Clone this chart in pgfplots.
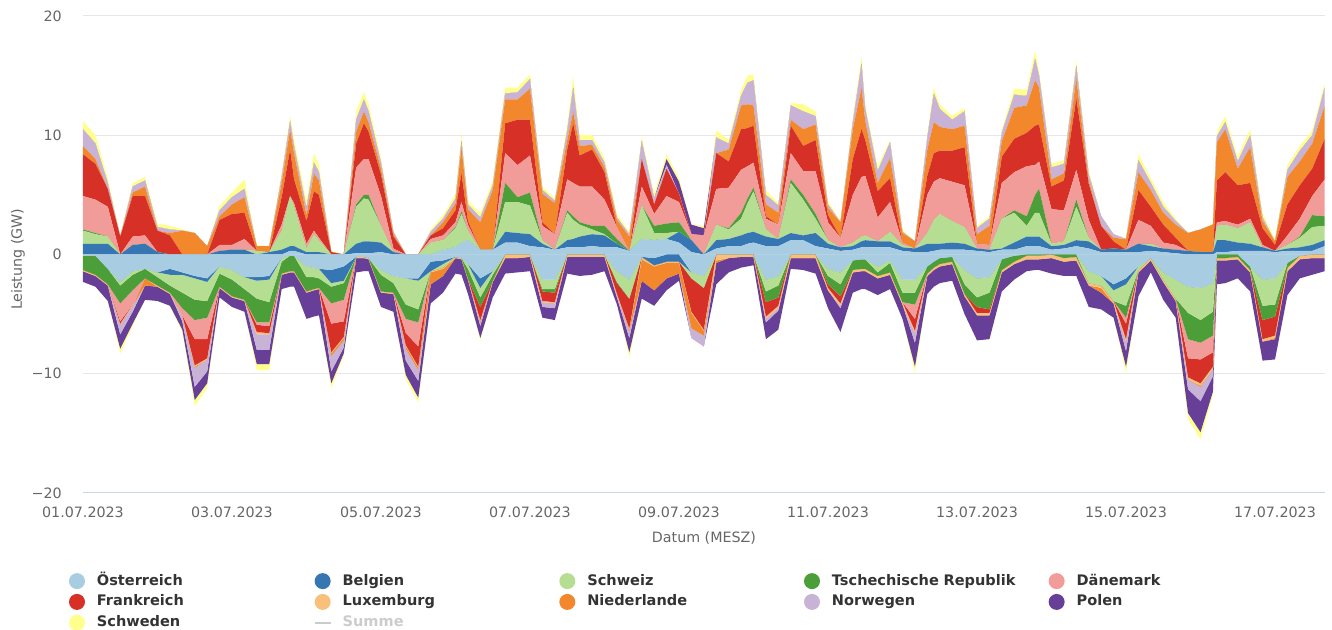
\documentclass[border=0pt]{standalone}
\usepackage{fontspec}
\setmainfont{DejaVu Sans}
\usepackage{pgfplots}
\pgfplotsset{compat=1.18}
\usepackage{pgfplotstable}
\definecolor{cAT}{HTML}{A8CDE3}
\definecolor{cBE}{HTML}{3576B3}
\definecolor{cCH}{HTML}{B6DE92}
\definecolor{cCZ}{HTML}{4C9F38}
\definecolor{cDK}{HTML}{F29C99}
\definecolor{cFR}{HTML}{D63027}
\definecolor{cLU}{HTML}{F8C07A}
\definecolor{cNL}{HTML}{F2872B}
\definecolor{cNO}{HTML}{C8B2D6}
\definecolor{cPL}{HTML}{673F98}
\definecolor{cSE}{HTML}{FFFF8E}
\definecolor{cGrid}{HTML}{E6E6E6}
\definecolor{cAxis}{HTML}{CCD6EB}
\definecolor{cTick}{HTML}{666666}
\definecolor{cLeg}{HTML}{333333}
\definecolor{cSum}{HTML}{CCCCCC}

\pgfplotstableread{
d AT BE CH CZ DK FR LU NL NO PL SE
0.000 0 0.9 1.1 0.1 2.8 3.5 0 0.7 1.4 0 0.7
0.167 0 0.9 0.8 0.1 2.8 3.0 0 0.4 1.3 0 0.7
0.333 0 0.9 0.6 0 2.5 1.5 0 0 0.5 0 0.4
0.500 0 0 0 0 0 1.5 0 0 0 0 0.1
0.667 0 0.8 0 0 0.7 3.4 0 0.3 0.5 0 0.3
0.833 0 0.9 0 0 0.7 3.3 0 0.8 0.5 0 0.3
1.000 0 0.2 0 0 0 1.8 0 0 0.3 0 0.3
1.167 0 0 0 0 0 1.6 0 0.2 0.3 0 0.3
1.333 0 0 0 0 0 0 0 2.0 0 0 0.1
1.500 0 0 0 0 0 0 0 1.8 0 0 0
1.667 0 0 0 0 0 0 0 0.7 0 0 0
1.833 0 0.3 0 0 0.5 2.1 0 0.3 0.5 0 0.4
2.000 0 0.4 0 0 0.4 2.6 0 0.8 0.6 0 0.4
2.167 0 0.4 0 0 0.9 2.2 0 1.3 0.7 0 0.8
2.333 0 0 0.3 0 0 0 0 0.4 0 0 0.1
2.500 0 0.2 0 0 0 0 0 0.5 0 0 0
2.667 0 0.4 1.6 0 0.5 2.3 0 1.2 0.5 0 0.4
2.780 0.3 0.4 4.2 0 0 3.9 0 1.7 0.7 0 0.4
2.833 0.3 0.4 3.3 0 0.3 2.0 0 2.2 0.6 0 0.6
3.000 0 0.2 0.3 0 0.4 1.9 0 0.5 0.6 0 0.6
3.100 0 0.2 1.5 0 0.3 3.3 0 1.5 0.9 0 0.8
3.167 0 0.2 1.0 0 0.2 3.6 0 1.2 0.7 0 0.6
3.333 0 0 0 0 0 0.2 0 0 0 0 0.1
3.500 0 0 0 0 0 0 0 0 0 0 0
3.667 0.1 0.8 3.1 0.2 3.1 2.0 0 1.0 1.0 0 0.7
3.770 0.1 1.0 3.6 0.3 3.0 3.0 0 1.0 1.0 0 0.6
3.833 0.1 1.0 3.5 0.4 3.0 2.3 0 0.8 0.9 0 0.6
4.000 0.2 0.8 1.4 0 2.5 1.8 0 0.5 0.5 0 0.4
4.167 0 0.2 0 0 0.3 1.0 0 0.2 0.2 0 0.1
4.333 0 0 0 0 0 0 0 0 0 0 0
4.500 0 0 0 0 0 0 0 0 0 0 0
4.667 0 0 1.0 0 0.3 0.3 0 0 0.3 0 0.2
4.833 0.4 0 0.8 0 0.4 0.6 0 0.5 0.3 0 0.3
5.000 0.6 0 1.6 0.1 0.4 1.0 0 0.6 0.4 0 0.4
5.080 1.0 0 2.4 0.2 0.8 2.4 0 2.2 0.5 0 0.6
5.167 1.2 0 0.8 0 0.5 0.3 0 1.0 0.4 0 0.3
5.333 0.4 0 0 0 0 0 0 2.3 0.4 0 0.4
5.500 0.4 0 0 0 0 0 0 5.0 0.4 0 0.4
5.667 1.0 0.9 2.5 1.6 2.5 2.5 0 2.0 0.5 0 0.5
5.833 1.0 0.8 2.6 0.4 2.7 3.8 0 1.7 0.6 0 0.4
6.000 0.7 1.0 2.4 1.1 3.1 3.0 0 2.6 0.8 0 0.4
6.167 0.6 0.3 0.3 0 1.2 0.3 0 2.4 0.3 0 0.3
6.333 0.4 0 0 0 1.3 0 0 2.6 0.2 0 0.2
6.500 0.6 0.6 2.3 0.2 2.6 2.5 0 0.8 0.8 0 0.5
6.580 0.6 0.7 1.6 0.3 2.8 5.0 0 1.0 2.0 0 0.9
6.667 0.6 0.9 1.0 0.2 3.0 2.6 0 0.8 0.5 0 0.4
6.833 0.7 1.0 0.4 0.3 3.3 3.1 0 0.4 0.4 0 0.4
7.000 0.6 1.0 0.1 0.7 2.2 2.3 0 0.4 0.4 0 0.4
7.167 0.6 0.3 0 0.4 1.0 0 0 0.6 0.2 0 0.3
7.333 0.3 0 0 0 0 0 0 1.2 0.2 0 0.2
7.500 1.3 0 2.8 0 1.6 2.3 0 0 1.5 0 0.4
7.667 1.2 0 0.6 0.6 1.0 0.8 0 0 0.5 0 0.4
7.833 1.3 0 0.5 0.8 2.3 2.3 0 0 0.3 0.5 0.4
8.000 1.0 0.9 0 0.8 1.7 0.7 0 0 0 1.0 0.3
8.167 0.2 1.0 0 0 0.5 0 0 0 0 0.8 0
8.333 0 0 0 0 1.6 0 0 0 0 0.6 0.2
8.500 0.5 0.7 1.3 0 3.0 3.0 0 0 1.3 0 0.6
8.667 0.7 0.6 0.8 0.1 3.4 2.2 0 1.0 0.5 0 0.3
8.833 0.7 0.9 1.4 0.5 3.6 3.4 0 2.0 0.8 0 0.5
8.920 0.9 0.9 2.5 0.4 2.7 3.2 0 2.0 1.8 0 0.6
9.000 1.0 0.9 3.4 0.3 2.1 3.1 0 1.7 2.1 0 0.5
9.167 0.7 0.8 0.6 0 0.9 0.2 0 1.0 0.8 0 0.4
9.333 0.7 0.6 0 0 1.2 0 0 1.0 0.6 0 0.2
9.500 1.2 0.6 4.2 0.3 2.2 2.3 0 0.5 1.2 0 0.2
9.667 1.2 0.4 3.0 0.4 2.0 2.1 0 1.4 1.5 0 0.6
9.833 0.7 1.1 1.2 0.4 3.6 2.6 0 1.3 0.7 0 0.4
10.000 0.5 0.4 0.3 0 1.5 0.6 0 0.6 0.3 0 0.3
10.167 0.3 0.3 0 0 0.8 0 0 1.3 0 0 0.1
10.333 0.4 0.3 0.3 0 4.0 3.0 0 2.5 0.6 0 0.4
10.450 0.6 0.5 0.4 0 5.0 4.0 0 3.5 2.0 0 0.6
10.500 0.6 0.6 0.4 0 5.0 3.0 0 1.6 1.0 0 0.4
10.667 0.6 0.5 0 0 2.0 2.2 0 0.7 1.0 0 0.4
10.833 0.6 0.5 0.8 0 2.5 2.0 0 1.7 1.3 0 0.2
11.000 0.3 0.3 0.2 0 0.2 0 0 0.8 0.1 0 0.2
11.167 0.2 0.3 0 0 0 0 0 0.6 0 0 0
11.333 0.2 0.7 0.9 0 3.2 1.6 0 2.2 1.0 0 0.3
11.420 0.3 0.6 2.0 0 3.2 2.4 0 2.6 2.4 0 0.5
11.500 0.4 0.5 2.5 0 3.0 2.3 0 2.0 1.5 0 0.4
11.667 0.4 0.6 1.8 0 3.3 2.6 0 1.8 0.8 0 0.3
11.833 0.4 0.5 1.4 0 3.5 3.2 0 1.8 1.2 0 0.3
12.000 0.3 0.2 0 0 0.4 0 0 0.8 0.5 0 0.2
12.167 0.2 0.2 0 0 0.4 0 0 1.6 0.6 0 0.2
12.333 0.4 0.1 2.5 0 3.0 2.2 0 1.3 0.7 0 0.3
12.500 0.4 0.6 2.5 0.2 3.2 2.8 0 2.6 1.1 0 0.5
12.667 0.7 0.8 0.9 0.8 4.2 2.8 0 2.3 0.8 0 0.5
12.780 0.7 0.8 2.0 1.5 2.5 3.3 0 3.8 1.8 0 0.7
12.833 0.7 0.8 2.0 2.0 2.3 3.1 0 3.1 1.0 0 0.4
13.000 0.4 0.3 0.2 0 2.9 1.9 0 0.6 1.0 0 0.3
13.167 0.5 0.3 0.3 0 2.6 2.5 0 0.6 0.8 0 0.3
13.333 0.7 0.5 2.8 0.6 2.5 6.0 0 1.7 1.0 0 0.5
13.500 0.5 0.6 0.3 0 1.5 3.0 0 0.3 0.5 0 0.3
13.667 0.2 0.2 0 0 0 2.0 0 0 0.8 0 0
13.833 0.2 0.3 0 0 0 0.6 0 0.3 0.3 0 0
14.000 0.2 0.2 0 0 0 0 0 0.9 0 0 0
14.167 0.2 0.7 0 0 2.0 2.5 0 1.5 1.0 0 0.5
14.333 0.3 0.4 0.2 0 1.5 1.6 0 1.4 0.6 0 0.4
14.500 0.2 0.3 0 0 0.5 1.5 0 1.0 0.5 0 0.4
14.667 0.1 0.3 0 0 0.4 0.6 0 1.1 0.3 0 0.2
14.833 0 0.3 0 0 0 0 0 1.5 0 0 0
15.000 0 0.2 0 0 0 0 0 1.9 0 0 0
15.167 0 0.2 0 0 0 0 0 2.3 0 0 0.1
15.220 0.2 1.0 1.2 0 0.3 3.5 0 3.2 0.5 0 0.4
15.333 0.2 1.0 1.3 0 0.3 4.1 0 3.6 0.6 0 0.5
15.500 0.3 0.7 1.2 0 0.3 3.3 0 1.4 0.6 0 0.4
15.667 0.3 0.6 1.8 0 0.3 3.0 0 3.0 1.0 0 0.5
15.833 0.3 0.3 0 0 0.2 1.4 0 0.6 0.3 0 0.4
16.000 0.2 0.1 0 0 0 0.5 0 0.3 0 0 0.2
16.167 0.3 0.2 0.3 0 0.8 2.6 0 2.3 0.6 0 0.4
16.333 0.3 0.3 0.8 0.1 1.5 2.8 0 2.0 0.9 0 0.4
16.500 0.3 0.5 1.5 1.0 1.6 2.3 0 2.1 0.7 0 0.4
16.667 0.7 0.5 1.2 0.8 3.1 3.4 0 2.8 1.5 0 0.4
}\pos

\pgfplotstableread{
d AT BE CH CZ DK FR LU NL NO PL SE
0.000 -0.1 0 0 -1.2 0 0 -0.1 0 0 -0.9 0
0.167 -0.1 0 0 -1.6 0 0 -0.1 0 0 -0.9 0
0.333 -1.2 0 0 -1.3 0 0 -0.1 0 0 -1.3 0
0.500 -2.3 0 -0.3 -1.5 -1.5 -0.2 -0.1 0 -0.8 -1.2 -0.4
0.667 -1.4 0 -0.3 -1.3 -1.2 0 -0.1 0 -0.5 -1.0 -0.2
0.833 -1.2 0 0 -0.8 0 0 0 -0.6 0 -1.2 0
1.000 -1.5 0 -0.4 -0.7 0 0 -0.1 0 0 -1.2 0
1.167 -1.2 -0.5 -0.9 -0.6 0 0 -0.1 0 0 -1.0 0
1.333 -1.5 -0.2 -1.5 -1.3 -0.6 0 -0.1 0 -0.4 -0.7 -0.2
1.500 -1.8 -0.2 -1.8 -1.7 -1.6 -2.2 -0.1 -0.1 -1.6 -1.1 -0.5
1.667 -2.0 -0.3 -1.6 -1.4 -1.8 -1.6 -0.1 0 -1.0 -1.0 -0.4
1.833 -1.0 0 -0.6 -1.1 0 0 -0.1 0 0 -0.8 0
2.000 -1.3 0 -0.8 -1.4 0 0 -0.1 0 0 -0.8 0
2.167 -1.9 0 -1.0 -0.9 0 0 -0.1 0 0 -0.9 0
2.333 -1.9 -0.3 -1.5 -2.0 -0.2 -0.6 -0.2 0 -1.3 -1.2 -0.5
2.500 -1.8 -0.3 -1.9 -1.7 -0.3 -0.6 -0.1 0 -1.3 -1.2 -0.5
2.667 -0.3 0 -0.3 -1.0 0 0 -0.1 0 0 -1.2 0
2.780 -0.1 0 0 -1.3 0 0 -0.1 0 0 -1.2 0
2.833 -0.1 0 0 -1.3 0 0 -0.1 0 0 -1.2 0
3.000 -1.0 0 -0.9 -1.2 0 0 -0.1 0 0 -2.2 0
3.100 -1.1 0 -0.8 -1.0 0 0 -0.1 0 0 -2.2 0
3.167 -1.2 0 -0.8 -0.8 0 0 -0.1 0 0 -2.2 0
3.333 -1.3 -1.1 -0.3 -1.4 -1.7 -2.4 -0.1 -0.2 -1.3 -1.0 -0.4
3.500 -1.0 -1.2 -0.2 -1.4 -1.8 -1.3 -0.1 -0.2 -0.6 -0.5 -0.2
3.667 -0.2 0 0 0 0 0 -0.1 0 0 -1.2 0
3.770 -0.2 0 0 0 0 0 -0.1 0 0 -1.1 0
3.833 -0.3 0 0 0 0 0 -0.1 0 0 -1.0 0
4.000 -1.3 0 -0.4 -1.4 0 0 -0.1 0 0 -1.2 0
4.167 -1.8 0 -0.6 -0.8 0 0 -0.1 0 0 -1.5 0
4.333 -2.0 0 -2.2 -1.2 -1.2 -1.0 -0.1 -0.2 -1.0 -1.2 -0.4
4.500 -2.0 -0.2 -2.4 -1.1 -2.0 -1.7 -0.1 -0.2 -0.9 -1.4 -0.4
4.667 -0.6 -0.8 0 0 0 0 -0.1 -1.0 0 -1.6 0
4.833 -0.5 -0.3 -0.3 0 0 0 -0.1 -0.6 0 -1.4 0
5.000 -0.2 0 0 0 0 0 -0.1 0 0 -1.3 0
5.080 -0.3 0 0 0 0 0 -0.1 0 0 -1.3 0
5.167 -0.8 0 -0.4 -0.8 0 0 -0.1 0 0 -1.2 0
5.333 -2.0 -0.8 -0.8 -0.8 0 -1.1 -0.1 -0.1 -0.3 -1.0 -0.2
5.500 -1.4 0 -0.3 -0.5 0 0 -0.1 0 0 -1.3 0
5.667 0 0 0 0 0 0 -0.3 0 0 -1.3 0
5.833 0 0 0 0 0 0 -0.3 0 0 -1.2 0
6.000 0 0 0 0 0 0 -0.2 0 0 -1.2 0
6.167 -2.1 0 -0.8 -0.2 0 -0.8 -0.1 0 -0.4 -0.9 0
6.333 -2.1 0 -0.8 -0.3 0 -0.8 -0.1 0 -0.4 -1.0 0
6.500 0 0 0 0 0 0 -0.2 0 0 -1.4 0
6.580 0 0 0 0 0 0 -0.2 0 0 -1.5 0
6.667 0 0 0 0 0 0 -0.2 0 0 -1.6 0
6.833 0 0 0 0 0 0 -0.2 0 0 -1.5 0
7.000 0 0 0 0 0 0 -0.2 0 0 -1.2 0
7.167 -1.4 0 -0.9 -0.1 0 -0.9 -0.1 0 -0.2 -0.6 0
7.333 -2.1 0 -1.6 0 0 -2.5 -0.1 -0.1 -0.6 -1.2 -0.4
7.500 -0.2 0 0 0 0 0 -0.2 -1.8 0 -1.5 0
7.667 -0.3 -0.6 0 0 0 0 -0.1 -2.0 0 -1.3 0
7.833 0 -0.6 0 0 0 0 -0.1 -1.3 0 -1.0 0
8.000 0 -0.6 0 0 0 0 -0.1 -0.9 0 -0.6 0
8.167 -1.5 0 -0.5 0 0 -2.8 -0.1 -1.3 -0.8 0 0
8.333 -1.8 0 -1.0 0 0 -3.5 -0.1 -0.4 -0.9 0 0
8.500 0 0 0 0 0 0 -0.5 -0.2 0 -1.8 0
8.667 0 0 0 0 0 0 -0.3 0 0 -1.2 0
8.833 0 0 0 0 0 0 -0.2 0 0 -0.9 0
8.920 0 0 0 0 0 0 -0.2 0 0 -0.8 0
9.000 0 0 0 0 0 0 -0.2 0 0 -0.7 0
9.167 -2.1 0 -1.0 -0.9 0 -1.2 -0.2 0 -0.3 -1.4 0
9.333 -1.8 0 -0.8 -1.0 0 -0.7 -0.2 0 -0.2 -1.6 0
9.500 0 0 0 0 0 0 -0.3 0 0 -0.9 0
9.667 0 0 0 0 0 0 -0.3 0 0 -1.0 0
9.833 0 0 0 0 0 0 -0.3 0 0 -1.3 0
10.000 -1.2 0 -0.6 -0.7 0 -0.3 -0.2 0 0 -1.5 0
10.167 -1.5 0 -1.0 -1.0 0 -0.6 -0.2 0 -0.2 -2.0 0
10.333 -0.5 0 0 -0.8 0 0 -0.2 0 0 -1.7 0
10.450 -0.4 0 0 -0.8 0 0 -0.2 0 0 -1.5 0
10.500 -0.4 0 0 -0.8 0 0 -0.2 0 0 -1.5 0
10.667 -1.0 0 -0.5 -0.3 0 0 -0.2 0 0 -1.4 0
10.833 -0.5 0 -0.2 -0.8 0 0 -0.2 0 0 -1.2 0
11.000 -2.1 0 -1.1 -0.8 0 0 -0.2 0 0 -1.2 0
11.167 -2.1 0 -1.1 -1.0 -1.2 -1.0 -0.2 0 -0.8 -2.0 -0.5
11.333 -1.0 0 0 -0.6 0 0 -0.2 0 0 -1.5 0
11.420 -0.6 0 0 -0.5 0 0 -0.2 0 0 -1.4 0
11.500 -0.3 0 0 -0.5 0 0 -0.2 0 0 -1.4 0
11.667 -0.2 0 0 -0.4 0 0 -0.2 0 0 -1.4 0
11.833 -1.3 0 -1.2 -0.8 0 0 -0.2 0 0 -1.5 0
12.000 -2.0 0 -1.6 -0.8 0 -0.5 -0.2 0 0 -2.1 0
12.167 -1.9 0 -1.3 -1.4 0 -0.3 -0.2 0 0 -2.0 0
12.333 -0.4 0 0 -0.9 0 0 -0.2 0 0 -1.6 0
12.500 -0.1 0 0 -0.5 0 0 -0.2 0 0 -1.3 0
12.667 0 0 0 -0.1 0 0 -0.3 0 0 -1.0 0
12.780 0 0 0 -0.1 0 0 -0.3 0 0 -0.9 0
12.833 0 0 0 -0.1 0 0 -0.3 0 0 -0.9 0
13.000 0 0 0 0 0 0 -0.3 0 0 -1.3 0
13.167 0 0 0 -0.3 0 0 -0.3 0 0 -1.2 0
13.333 0 0 0 -0.2 0 0 -0.3 0 0 -1.3 0
13.500 -1.4 0 -1.0 0 0 0 -0.2 0 0 -1.8 0
13.667 -1.8 0 -0.8 0 0 0 -0.2 -0.4 0 -1.4 0
13.833 -2.5 -0.5 -0.9 0 0 0 -0.2 0 0 -1.2 0
14.000 -2.0 -0.5 -1.8 -1.0 -0.5 -1.3 -0.2 0 -0.8 -1.3 -0.5
14.167 -1.0 0 -0.3 0 0 0 -0.2 0 0 -2.0 0
14.333 -0.3 0 0 0 0 0 -0.2 0 0 -1.0 0
14.500 -1.5 0 -0.6 0 0 0 -0.2 0 0 -1.5 0
14.667 -2.1 0 -1.6 0 0 0 -0.2 0 0 -1.4 0
14.833 -2.7 0 -2.2 -2.2 -1.6 -1.6 -0.2 0 -0.8 -2.0 -0.5
15.000 -2.8 0 -2.7 -1.9 -1.4 -2.0 -0.2 -0.1 -1.2 -2.6 -0.6
15.167 -2.4 0 -2.4 -2.0 -1.4 -1.2 -0.2 0 -0.6 -1.3 -0.3
15.220 0 0 0 -0.3 0 0 -0.2 0 0 -2.0 0
15.333 0 0 0 -0.3 0 0 -0.2 0 0 -1.9 0
15.500 0 0 0 -0.2 0 0 -0.2 0 0 -1.6 0
15.667 -1.0 0 0 -0.3 0 0 -0.2 0 0 -1.6 0
15.833 -2.1 0 -2.2 -1.2 0 -1.6 -0.2 0 0 -1.6 0
16.000 -2.0 0 -2.2 -1.0 0 -1.6 -0.2 -0.1 0 -1.7 0
16.167 -0.7 0 0 -0.4 0 0 -0.3 0 0 -2.0 0
16.333 -0.1 0 0 0 0 0 -0.3 0 0 -1.6 0
16.500 0 0 0 0 0 0 -0.3 0 0 -1.4 0
16.667 0 0 0 0 0 0 -0.3 0 0 -1.1 0
}\negt

\pgfplotsset{
  common/.style={
    scale only axis, width=931.5pt, height=357.75pt,
    xmin=0, xmax=16.6711, ymin=-20, ymax=20,
    stack plots=y,
  },
  ar/.style={fill=#1, draw=none},
}

\begin{document}
\begin{tikzpicture}
\useasboundingbox (-62.25pt,-102.75pt) rectangle (936.75pt,369.75pt);
\begin{axis}[common,
  axis x line*=bottom, axis y line*=left,
  x axis line style={draw=cAxis, line width=0.75pt},
  y axis line style={draw=none},
  tick style={draw=none}, major tick length=0pt,
  xtick={0,2,4,6,8,10,12,14,16},
  xticklabels={01.07.2023,03.07.2023,05.07.2023,07.07.2023,09.07.2023,11.07.2023,13.07.2023,15.07.2023,17.07.2023},
  ytick={-20,-10,0,10,20},
  yticklabels={−20,−10,0,10,20},
  ymajorgrids, major grid style={draw=cGrid, line width=0.75pt},
  xticklabel style={font=\fontsize{10.7}{12}\selectfont, text=cTick, anchor=center, yshift=-14.25pt},
  yticklabel style={font=\fontsize{10.7}{12}\selectfont, text=cTick, anchor=east, inner sep=0pt, xshift=-15.75pt},
  xlabel={Datum (MESZ)},
  xlabel style={at={(axis description cs:0.5,-0.0943)}, anchor=center, font=\fontsize{10.7}{12}\selectfont, text=cTick},
  ylabel={Leistung (GW)},
  ylabel style={at={(axis description cs:-0.0523,0.49)}, anchor=center, font=\fontsize{10.7}{12}\selectfont, text=cTick},
  legend columns=5,
  legend cell align=left,
  legend style={at={(axis description cs:-0.01127,-0.1680)}, anchor=north west,
    draw=none, fill=none, inner sep=0pt, outer sep=0pt, row sep=3.6pt, column sep=0pt,
    font=\bfseries\fontsize{10.9}{12}\selectfont, text=cLeg,
    nodes={inner sep=0pt, text width=162.5pt, text height=8.5pt, text depth=2.5pt, anchor=west}},
  legend image code/.code={\fill[#1, draw=none] (6pt,0pt) circle (6pt); \path[draw=none, fill=none] (0pt,0pt) -- (21pt,0pt);},
]
\addlegendimage{fill=cAT}\addlegendentry{Österreich}
\addlegendimage{fill=cBE}\addlegendentry{Belgien}
\addlegendimage{fill=cCH}\addlegendentry{Schweiz}
\addlegendimage{fill=cCZ}\addlegendentry{Tschechische Republik}
\addlegendimage{fill=cDK}\addlegendentry{Dänemark}
\addlegendimage{fill=cFR}\addlegendentry{Frankreich}
\addlegendimage{fill=cLU}\addlegendentry{Luxemburg}
\addlegendimage{fill=cNL}\addlegendentry{Niederlande}
\addlegendimage{fill=cNO}\addlegendentry{Norwegen}
\addlegendimage{fill=cPL}\addlegendentry{Polen}
\addlegendimage{fill=cSE}\addlegendentry{Schweden}
\addlegendimage{legend image code/.code={\draw[draw=cSum, line width=1.5pt] (0pt,0pt) -- (12pt,0pt); \path[draw=none, fill=none] (0pt,0pt) -- (21pt,0pt);}}\addlegendentry{\textcolor{cSum}{Summe}}
\addplot[ar=cAT] table[x=d,y=AT]{\pos} \closedcycle;
\addplot[ar=cBE] table[x=d,y=BE]{\pos} \closedcycle;
\addplot[ar=cCH] table[x=d,y=CH]{\pos} \closedcycle;
\addplot[ar=cCZ] table[x=d,y=CZ]{\pos} \closedcycle;
\addplot[ar=cDK] table[x=d,y=DK]{\pos} \closedcycle;
\addplot[ar=cFR] table[x=d,y=FR]{\pos} \closedcycle;
\addplot[ar=cLU] table[x=d,y=LU]{\pos} \closedcycle;
\addplot[ar=cNL] table[x=d,y=NL]{\pos} \closedcycle;
\addplot[ar=cNO] table[x=d,y=NO]{\pos} \closedcycle;
\addplot[ar=cPL] table[x=d,y=PL]{\pos} \closedcycle;
\addplot[ar=cSE] table[x=d,y=SE]{\pos} \closedcycle;
\end{axis}
\begin{axis}[common, hide axis]
\addplot[ar=cAT] table[x=d,y=AT]{\negt} \closedcycle;
\addplot[ar=cBE] table[x=d,y=BE]{\negt} \closedcycle;
\addplot[ar=cCH] table[x=d,y=CH]{\negt} \closedcycle;
\addplot[ar=cCZ] table[x=d,y=CZ]{\negt} \closedcycle;
\addplot[ar=cDK] table[x=d,y=DK]{\negt} \closedcycle;
\addplot[ar=cFR] table[x=d,y=FR]{\negt} \closedcycle;
\addplot[ar=cLU] table[x=d,y=LU]{\negt} \closedcycle;
\addplot[ar=cNL] table[x=d,y=NL]{\negt} \closedcycle;
\addplot[ar=cNO] table[x=d,y=NO]{\negt} \closedcycle;
\addplot[ar=cPL] table[x=d,y=PL]{\negt} \closedcycle;
\addplot[ar=cSE] table[x=d,y=SE]{\negt} \closedcycle;
\end{axis}
\end{tikzpicture}
\end{document}
